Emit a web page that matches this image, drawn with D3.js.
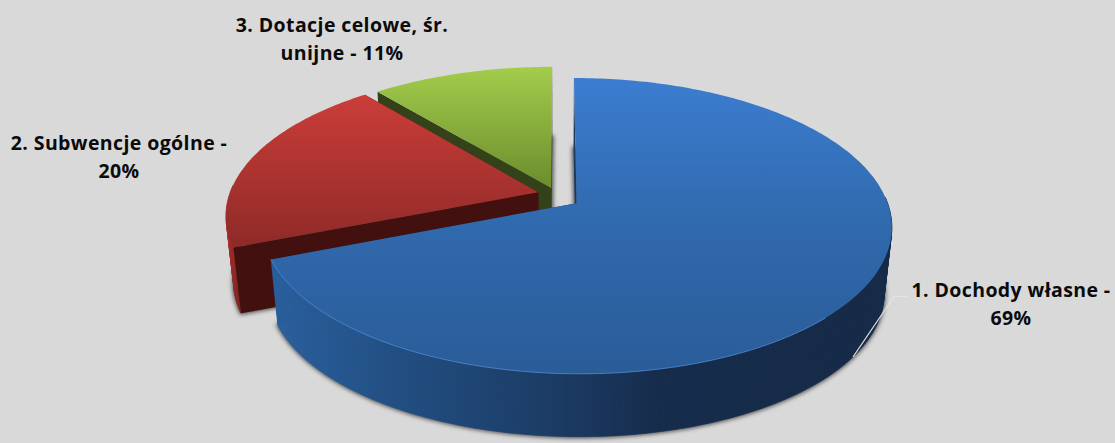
<!DOCTYPE html>
<html><head><meta charset="utf-8">
<style>html,body{margin:0;padding:0;background:#d9d9d9;overflow:hidden}svg{display:block}
text{font-family:"Open Sans",Lato,sans-serif;font-weight:700;fill:#0b0b0b;font-size:19.5px;letter-spacing:.4px;text-anchor:middle}</style>
<script src="https://cdnjs.cloudflare.com/ajax/libs/d3/7.8.5/d3.min.js"></script>
</head><body><script>
const categories = ["1. Dochody własne", "2. Subwencje ogólne", "3. Dotacje celowe, śr. unijne"];
const values = [69, 20, 11];
const labelLines = [["1. Dochody własne -", "69%"], ["2. Subwencje ogólne -", "20%"], ["3. Dotacje celowe, śr.", "unijne - 11%"]];

const W = 1115, H = 443;
const ox = 557, oy = 197, A = 309, B = 142.5, k = 0.153, explode = 0.076, dz = 67, sz = 0.977;
const nudge = [[0, 0], [4, -2], [2, 1]];
const svg = d3.select("body").append("svg").attr("width", W).attr("height", H);
svg.append("rect").attr("width", W).attr("height", H).attr("fill", "#d9d9d9");
const defs = svg.append("defs");

function grad(id, stops, x1, x2) {
  const g = defs.append("linearGradient").attr("id", id);
  if (x1 === undefined) g.attr("x1", 0).attr("y1", 0).attr("x2", 0).attr("y2", 1);
  else g.attr("gradientUnits", "userSpaceOnUse").attr("x1", x1).attr("y1", 0).attr("x2", x2).attr("y2", 0);
  stops.forEach(([o, c]) => g.append("stop").attr("offset", o).attr("stop-color", c));
}
grad("top0", [[0, "#3c7dd0"], [0.5, "#3069ad"], [1, "#2a5c98"]]);
grad("top1", [[0, "#cb3d39"], [1, "#8e2a27"]]);
grad("top2", [[0, "#a3cd4b"], [1, "#6c8c2e"]]);
grad("wall0", [[0, "#2a609f"], [0.22, "#214d80"], [0.5, "#1a3860"], [0.62, "#162c4c"], [1, "#152a47"]], 272, 890);
grad("wall1", [[0, "#a93230"], [1, "#7d2220"]], 225, 240);
const blur = defs.append("filter").attr("id", "blur").attr("x", "-10%").attr("y", "-10%").attr("width", "120%").attr("height", "120%");
blur.append("feGaussianBlur").attr("stdDeviation", 2);

const pieData = d3.pie().sort(null)(values);
const project = (X, Y, lower, n) => {
  const w = 1 + k * Y, s = lower ? sz : 1;
  return [ox + n[0] + s * A * X / w, oy + n[1] + (lower ? dz : 0) - s * B * Y / w];
};
const line = d3.line();
const apexOf = d => {
  const mid = (d.startAngle + d.endAngle) / 2;
  return [explode * Math.sin(mid), explode * Math.cos(mid)];
};
const rimPoint = (d, a, lower) => {
  const [ex, ey] = apexOf(d);
  return project(ex + Math.sin(a), ey + Math.cos(a), lower, nudge[d.index]);
};
const angles = (a0, a1) => {
  const n = Math.max(2, Math.ceil((a1 - a0) * 60));
  return d3.range(n + 1).map(i => a0 + (a1 - a0) * i / n);
};
const rim = (d, a0, a1, lower) => angles(a0, a1).map(a => rimPoint(d, a, lower));
const apex = (d, lower) => { const [ex, ey] = apexOf(d); return project(ex, ey, lower, nudge[d.index]); };
const face = (d, lower) => line([apex(d, lower), ...rim(d, d.startAngle, d.endAngle, lower)]) + "Z";
const radial = (d, a) => line([apex(d, false), rimPoint(d, a, false), rimPoint(d, a, true), apex(d, true)]) + "Z";

// ground shadow from the lower plane of every slice
svg.append("g").attr("filter", "url(#blur)").selectAll("path").data(pieData).join("path")
  .attr("d", d => face(d, true)).attr("fill", "#444").attr("stroke", "#555").attr("stroke-width", 3);

const faceColors = ["#1a3860", "#42100e", "#34421a"];
[2, 1, 0].forEach(i => {
  const d = pieData[i], g = svg.append("g");
  const drawRadials = () => {
    g.append("path").attr("d", radial(d, d.endAngle)).attr("fill", faceColors[i]);
    g.append("path").attr("d", radial(d, d.startAngle)).attr("fill", faceColors[i]);
  };
  if (i === 0) drawRadials(); // the big slice turns its cut faces away from the viewer
  // outer wall, only the part turned to the viewer, one quad per step
  const as = angles(d.startAngle, d.endAngle);
  const quads = d3.pairs(as).filter(([a, b]) => Math.cos((a + b) / 2) < 0.05)
    .map(([a, b]) => line([rimPoint(d, a, false), rimPoint(d, b, false), rimPoint(d, b, true), rimPoint(d, a, true)]) + "Z");
  g.append("g").selectAll("path").data(quads).join("path").attr("d", q => q)
    .attr("fill", `url(#wall${i})`).attr("stroke", `url(#wall${i})`).attr("stroke-width", 0.6);
  if (i !== 0) drawRadials();
  g.append("path").attr("d", face(d, false)).attr("fill", `url(#top${i})`);
  if (i === 0) {
    g.append("path").attr("d", line(rim(d, Math.PI * 0.75, d.endAngle, false))).attr("fill", "none")
      .attr("stroke", "#4c8cd8").attr("stroke-width", 1).attr("opacity", 0.8);
  }
});

// leader line of the first label
svg.append("path").attr("d", line([[907, 296.5], [894, 296.5], [853, 357]])).attr("fill", "none")
  .attr("stroke", "#e4e4e4").attr("stroke-width", 1.2);

const labelPos = [[1011, 297], [119, 150], [342, 32]];
labelLines.forEach((ls, i) => {
  const t = svg.append("text").attr("x", labelPos[i][0]).attr("y", labelPos[i][1]);
  ls.forEach((s, j) => t.append("tspan").attr("x", labelPos[i][0]).attr("y", labelPos[i][1] + j * 28).text(s));
});
</script></body></html>
